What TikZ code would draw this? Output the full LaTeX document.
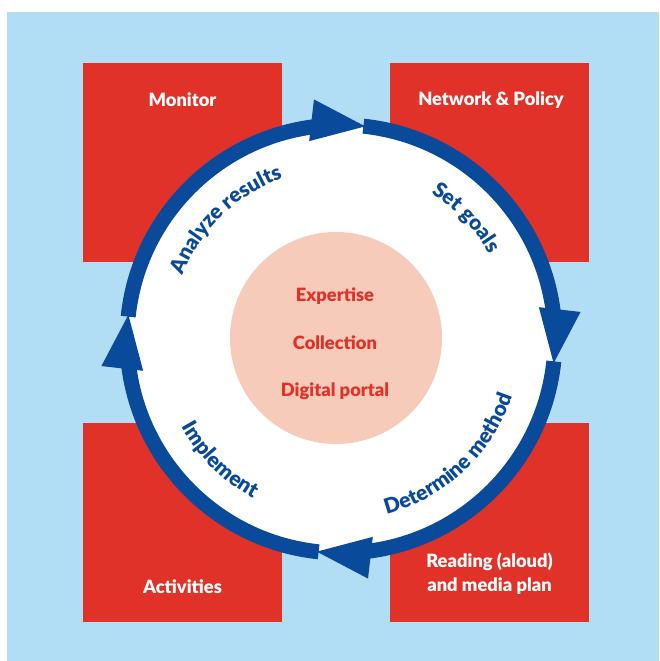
\documentclass[tikz,border=0pt]{standalone}
\usepackage{fontspec}
\setmainfont{Lato}[BoldFont={Lato Black}]
\usetikzlibrary{calc,decorations.text}
\definecolor{bgblue}{HTML}{B1DDF5}
\definecolor{boxred}{HTML}{E1322A}
\definecolor{ringblue}{HTML}{0A4A9B}
\definecolor{pinkfill}{HTML}{F7CBBA}
\newcommand\curvefont{\fontsize{21}{23}\selectfont\bfseries\color{ringblue}}
\begin{document}
\begin{tikzpicture}[x=1pt,y=1pt,
  redbox/.style={fill=boxred, draw=none, minimum width=199pt, minimum height=199pt, inner sep=0pt},
  boxlabel/.style={text=white, font=\fontsize{18.3}{24}\selectfont\bfseries, align=center, inner sep=0pt},
  centerlabel/.style={text=boxred, font=\fontsize{18.3}{20}\selectfont\bfseries, inner sep=0pt},
  ringseg/.style={draw=ringblue, line width=15pt, line cap=butt},
  core/.style={circle, fill=pinkfill, draw=none, minimum size=212pt, inner sep=0pt},
  curved/.style={decorate, decoration={text along path, text align=center, text={#1}}}
  ]
\useasboundingbox (0,0) rectangle (659,661);
\fill[white] (0,0) rectangle (659,661);
\fill[bgblue] (7,0) rectangle (659,649);
% red boxes
\node[redbox] (tl) at (182.5,498.5) {};
\node[redbox] (tr) at (489,498.5) {};
\node[redbox] (bl) at (182.5,138.5) {};
\node[redbox] (br) at (489.5,138.5) {};
\node[boxlabel] (tllab) at ($(tl.north)+(0,-37)$) {Monitor};
\node[boxlabel] (trlab) at ($(tr.north)+(2,-37)$) {Network \& Policy};
\node[boxlabel] (bllab) at ($(bl.south)+(0,36)$) {Activities};
\node[boxlabel] (brlab) at ($(br.south)+(0,48)$) {Reading (aloud)\\and media plan};
% ring
\coordinate (C) at (341,322);
\fill[white] (C) circle[radius=214];
\foreach \s in {174,84,-6,-96}{
  \pgfmathsetmacro\t{\s-90.5}
  \pgfmathsetmacro\e{\t+13}
  \draw[ringseg] ($(C)+(\s:214)$) arc[start angle=\s, end angle=\e, radius=214];
  \coordinate (T) at ($(C)+(\t:214)$);
  \coordinate (B) at ($(T)+(\t+90:54)$);
  \fill[ringblue] (T) -- ($(B)+(\t:21)$) -- ($(B)+(\t+180:21)$) -- cycle;
}
% core
\node[core] (mid) at (336,323) {};
\node[centerlabel] (l1) at ($(mid)+(-1,42)$) {Expertise};
\node[centerlabel] (l2) at ($(mid)+(-1,-5)$) {Collection};
\node[centerlabel] (l3) at ($(mid)+(-1,-53)$) {Digital portal};
% curved labels
\path[curved={|\curvefont|Analyze results}] ($(C)+(194:171)$) arc[start angle=194, end angle=74, radius=171];
\path[curved={|\curvefont|Set goals}] ($(C)+(104:171)$) arc[start angle=104, end angle=-16, radius=171];
\path[curved={|\curvefont|Determine method}] ($(C)+(-107:181)$) arc[start angle=-107, end angle=13, radius=181];
\path[curved={|\curvefont|Implement}] ($(C)+(165:182)$) arc[start angle=165, end angle=285, radius=182];
\end{tikzpicture}
\end{document}
